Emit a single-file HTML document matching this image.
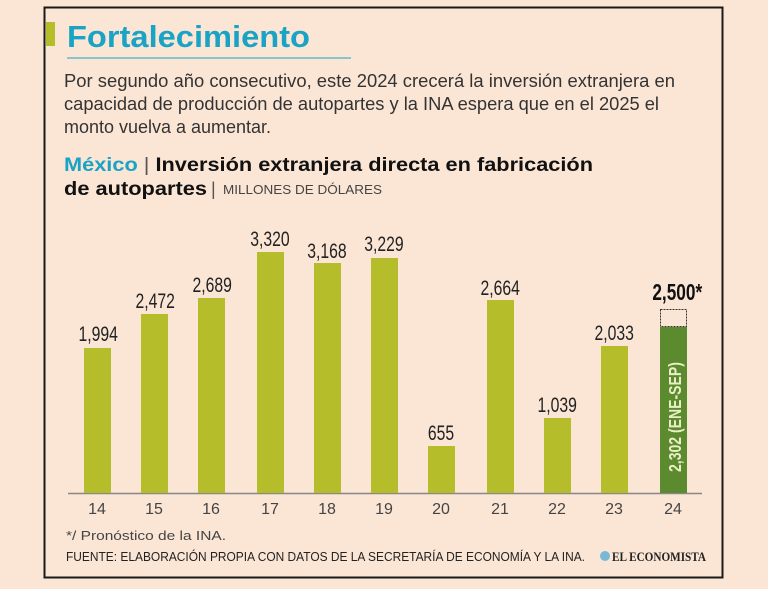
<!DOCTYPE html>
<html><head><meta charset="utf-8"><style>
body{margin:0;background:#fbe6d6;width:768px;height:584px;overflow:hidden}
</style></head><body>
<svg width="768" height="584" xmlns="http://www.w3.org/2000/svg" font-family="Liberation Sans, sans-serif">
<rect x="0" y="0" width="768" height="584" fill="#fbe6d6"/>
<rect x="44.5" y="7.5" width="678" height="570" fill="none" stroke="#1a1a1a" stroke-width="2"/>
<rect x="46" y="22" width="9" height="24" fill="#b5bd2a"/>
<text x="67" y="47" font-size="31" font-weight="bold" fill="#1aa3c4" textLength="243" lengthAdjust="spacingAndGlyphs">Fortalecimiento</text>
<line x1="67" y1="58" x2="351" y2="58" stroke="#1aa3c4" stroke-width="1"/>
<g font-size="18" fill="#333">
<text x="64" y="87" textLength="611" lengthAdjust="spacingAndGlyphs">Por segundo año consecutivo, este 2024 crecerá la inversión extranjera en</text>
<text x="64" y="110" textLength="595" lengthAdjust="spacingAndGlyphs">capacidad de producción de autopartes y la INA espera que en el 2025 el</text>
<text x="64" y="133" textLength="207" lengthAdjust="spacingAndGlyphs">monto vuelva a aumentar.</text>
</g>
<text x="64" y="171" font-size="19" font-weight="bold" fill="#111" textLength="529" lengthAdjust="spacingAndGlyphs"><tspan fill="#1aa3c4">México</tspan><tspan font-weight="normal" fill="#555"> | </tspan>Inversión extranjera directa en fabricación</text>
<text x="64" y="195" font-size="19" font-weight="bold" fill="#111" textLength="143" lengthAdjust="spacingAndGlyphs">de autopartes</text>
<text x="211" y="195" font-size="18" fill="#555">|</text>
<text x="223" y="194" font-size="13" fill="#444" textLength="159" lengthAdjust="spacingAndGlyphs">MILLONES DE DÓLARES</text>
<line x1="68" y1="493.5" x2="702" y2="493.5" stroke="#888" stroke-width="1.5"/>
<g fill="#b5bd2a">
<rect x="84" y="348" width="27" height="145"/>
<rect x="141" y="314" width="27" height="179"/>
<rect x="198" y="298" width="27" height="195"/>
<rect x="257" y="252" width="27" height="241"/>
<rect x="314" y="263" width="27" height="230"/>
<rect x="371" y="258" width="27" height="235"/>
<rect x="428" y="446" width="27" height="47"/>
<rect x="487" y="300" width="27" height="193"/>
<rect x="544" y="418" width="27" height="75"/>
<rect x="601" y="346" width="27" height="147"/>
</g>
<rect x="660" y="327" width="27" height="166" fill="#5c8a2e"/>
<rect x="660.5" y="309.5" width="26" height="17" fill="none" stroke="#333" stroke-width="1" stroke-dasharray="2,1"/>
<g font-size="21" fill="#222" text-anchor="middle">
<g transform="scale(0.75,1)">
<text x="131" y="341">1,994</text>
<text x="207" y="308">2,472</text>
<text x="283" y="292">2,689</text>
<text x="360" y="246">3,320</text>
<text x="436" y="258">3,168</text>
<text x="512" y="251">3,229</text>
<text x="588" y="440">655</text>
<text x="667" y="295">2,664</text>
<text x="743" y="412">1,039</text>
<text x="819" y="340">2,033</text>
<text x="903" y="300" font-weight="bold" font-size="23" fill="#111">2,500*</text>
</g>
</g>
<text transform="translate(681,472) rotate(-90) scale(0.78,1)" font-size="18" font-weight="bold" fill="#e9efc4">2,302  (ENE-SEP)</text>
<g font-size="16" fill="#444" text-anchor="middle">
<text x="97" y="514">14</text><text x="154" y="514">15</text><text x="211" y="514">16</text><text x="270" y="514">17</text><text x="327" y="514">18</text><text x="384" y="514">19</text><text x="441" y="514">20</text><text x="500" y="514">21</text><text x="557" y="514">22</text><text x="614" y="514">23</text><text x="673" y="514">24</text>
</g>
<text x="66" y="540" font-size="13" fill="#444" textLength="160" lengthAdjust="spacingAndGlyphs">*/ Pronóstico de la INA.</text>
<text x="66" y="561" font-size="12.5" fill="#222" textLength="519" lengthAdjust="spacingAndGlyphs">FUENTE: ELABORACIÓN PROPIA CON DATOS DE LA SECRETARÍA DE ECONOMÍA Y LA INA.</text>
<circle cx="605" cy="556" r="5" fill="#7ab8d8"/>
<text x="612" y="561" font-size="13" font-family="Liberation Serif, serif" font-weight="bold" fill="#222" textLength="94" lengthAdjust="spacingAndGlyphs">EL ECONOMISTA</text>
</svg>
</body></html>
